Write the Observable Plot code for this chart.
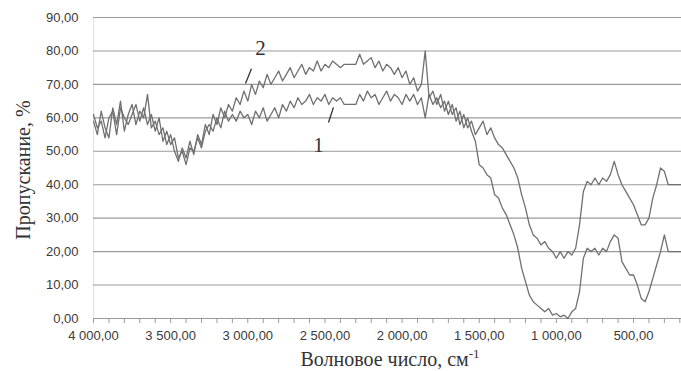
<!DOCTYPE html>
<html>
<head>
<meta charset="utf-8">
<script src="https://cdn.jsdelivr.net/npm/d3@7"></script>
<script src="https://cdn.jsdelivr.net/npm/@observablehq/plot@0.6"></script>
<style>
  html, body { margin: 0; padding: 0; background: #fff; }
  #chart { width: 681px; height: 371px; }
</style>
</head>
<body>
<div id="chart"></div>
<script>
// Sampling grid of wavenumbers (cm^-1), 25 cm^-1 step
const wavenumber = d3.range(4000, 174, -25);

// Curve 2 (upper), transmittance %
const curve2 = [
  59,55,62,57,54,63,58,65,56,61, 64,58,62,60,67,57,59,55,57,52,
  55,50,47,51,48,53,49,55,52,58, 55,61,58,63,60,64,62,66,64,68,
  65,70,67,71,69,73,70,72,74,71, 73,75,72,74,76,73,75,74,77,74,
  76,75,77,76,75,76,76,76,76,79, 76,77,78,75,77,74,76,75,73,75,
  72,74,70,72,68,70,80,66,68,64, 67,62,65,61,63,58,61,57,59,55,
  57,59,55,57,54,52,51,49,47,45, 42,37,33,28,25,24,22,23,21,20,
  18,20,18,20,19,21,28,38,41,40, 42,40,42,41,43,47,43,40,38,36,
  34,31,28,28,30,36,40,45,44,40, 40,40,40,40
];

// Curve 1 (lower), transmittance %
const curve1 = [
  61,57,59,54,60,62,55,63,60,58, 61,64,59,63,58,61,56,60,53,56,
  52,54,48,50,46,51,50,54,51,56, 58,56,60,57,62,59,61,59,62,60,
  61,58,62,60,63,59,61,63,60,64, 62,65,63,66,64,65,67,64,66,65,
  67,64,66,65,66,64,64,64,64,67, 65,68,66,67,64,66,68,65,67,66,
  64,67,65,67,64,66,60,67,64,66, 63,65,61,64,59,62,57,60,56,53,
  46,45,43,42,37,36,33,31,28,25, 21,15,11,7,5,4,3,2,3,1,
  1.5,0.5,1,0,2,3,8,18,21,20, 21,19,21,20,23,25,24,17,15,13,
  13,10,6,5,8,12,16,20,25,20, 20,20,20,20
];

const yTicks = [0,10,20,30,40,50,60,70,80,90];
const xTickLabels = [4000,3500,3000,2500,2000,1500,1000,500];
const xMinorTicks = d3.range(4000, 199, -100);

// Curve number annotations
const labels = [
  {text: "2", w: 2918, v: 80.7},
  {text: "1", w: 2542, v: 51.7}
];
const leaders = [
  {w1: 3015, v1: 70.3, w2: 2976, v2: 74.7},
  {w1: 2477, v1: 58.6, w2: 2445, v2: 63.1}
];

const data = [];
wavenumber.forEach((w, i) => {
  data.push({w, v: curve1[i], s: "1"});
  data.push({w, v: curve2[i], s: "2"});
});

const loc = d3.formatLocale({decimal: ",", thousands: " ", grouping: [3], currency: ["", ""]});
const fmt = loc.format(",.2f");

const plot = Plot.plot({
  width: 681,
  height: 371,
  marginLeft: 93,
  marginRight: 0,
  marginTop: 17,
  marginBottom: 53,
  style: {fontFamily: "'Liberation Sans', Arial, sans-serif", background: "#fff"},
  x: {domain: [4000, 189], label: null},
  y: {domain: [0, 90], label: null},
  marks: [
    Plot.ruleX([4000], {stroke: "#e2e2e2"}),
    Plot.gridY(yTicks, {stroke: "#9a9a9a", strokeOpacity: 1, strokeWidth: 1.1}),
    Plot.axisX(xMinorTicks, {tickSize: 5, text: null, stroke: "#9a9a9a"}),
    Plot.axisX(xTickLabels, {tickSize: 0, tickPadding: 12, tickFormat: fmt, fill: "#3a3a3a", fontSize: 13}),
    Plot.axisY(yTicks, {tickSize: 0, tickPadding: 15, tickFormat: fmt, fill: "#3a3a3a", fontSize: 13}),
    Plot.line(data, {x: "w", y: "v", z: "s", stroke: "#707070", strokeWidth: 1.3}),
    Plot.link(leaders, {x1: "w1", y1: "v1", x2: "w2", y2: "v2", stroke: "#333", strokeWidth: 1.3}),
    Plot.text(labels, {x: "w", y: "v", text: "text", fontFamily: "'Liberation Serif', 'Times New Roman', serif", fontSize: 21, fill: "#333"})
  ]
});

const svg = d3.select(plot);
svg.append("text")
  .attr("transform", "translate(30,170) rotate(-90)")
  .attr("text-anchor", "middle")
  .attr("font-family", "'Liberation Serif', 'Times New Roman', serif")
  .attr("font-size", 20)
  .attr("fill", "#333")
  .text("Пропускание, %");

const xl = svg.append("text")
  .attr("x", 390)
  .attr("y", 366)
  .attr("text-anchor", "middle")
  .attr("font-family", "'Liberation Serif', 'Times New Roman', serif")
  .attr("font-size", 20)
  .attr("fill", "#333");
xl.append("tspan").text("Волновое число, см");
xl.append("tspan").attr("font-size", 13).attr("dy", -8).text("-1");

document.getElementById("chart").appendChild(plot);
</script>
</body>
</html>
